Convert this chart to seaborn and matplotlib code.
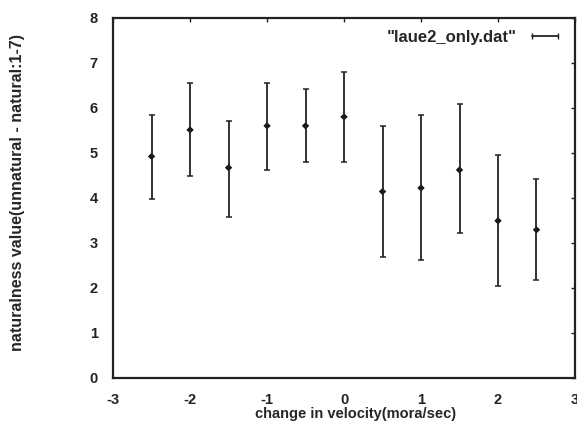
import matplotlib
matplotlib.use("Agg")
import matplotlib.pyplot as plt
from matplotlib.lines import Line2D
import numpy as np
import pandas as pd
import seaborn as sns

# velocity change (mora/sec) and naturalness ratings
velocity = [-2.5, -2.0, -1.5, -1.0, -0.5, 0.0, 0.5, 1.0, 1.5, 2.0, 2.5]
mean_score = [4.92, 5.51, 4.67, 5.60, 5.60, 5.80, 4.14, 4.22, 4.62, 3.49, 3.29]
upper = [5.84, 6.55, 5.71, 6.56, 6.42, 6.80, 5.60, 5.83, 6.08, 4.96, 4.42]
lower = [3.98, 4.49, 3.58, 4.62, 4.80, 4.80, 2.69, 2.62, 3.22, 2.04, 2.18]

LABEL = '"laue2_only.dat"'

sns.set_style("white")
plt.rcParams["font.family"] = ["Liberation Sans", "DejaVu Sans"]
plt.rcParams["axes.unicode_minus"] = False

df = pd.DataFrame({"v": velocity, "m": mean_score, "hi": upper, "lo": lower})
yerr = np.vstack([df["m"] - df["lo"], df["hi"] - df["m"]])

fig = plt.figure(figsize=(5.77, 4.25), dpi=100)
ax = fig.add_axes([0.196, 0.111, 0.8005, 0.847])

ax.errorbar(df["v"], df["m"], yerr=yerr, fmt="none", ecolor="#222222",
            elinewidth=1.3, capsize=2.5, capthick=1.1)
sns.scatterplot(data=df, x="v", y="m", ax=ax, color="#111111", s=14,
                marker="D", edgecolor="none", legend=False)

ax.set_xlim(-3, 3)
ax.set_ylim(0, 8)
ax.set_xticks(range(-3, 4))
ax.set_yticks(range(0, 9))
ax.tick_params(direction="in", length=3, width=1, top=True, right=True,
               labelsize=10.5, colors="#222222")
ax.tick_params(axis="x", pad=11)
ax.tick_params(axis="y", pad=11)
for lab in ax.get_xticklabels() + ax.get_yticklabels():
    lab.set_fontweight("bold")
for s in ax.spines.values():
    s.set_linewidth(1.6)
    s.set_color("#222222")

ax.set_xlabel("change in velocity(mora/sec)", fontsize=10.5, fontweight="bold")
ax.xaxis.set_label_coords(0.524, -0.08)
ax.set_ylabel("naturalness value(unnatural - natural:1-7)", fontsize=11.5,
              fontweight="bold")
ax.yaxis.set_label_coords(-0.19, 0.515)

handle = Line2D([], [], color="#222222", lw=1.3, marker="|", markersize=4)
leg = ax.legend(handles=[handle], labels=[LABEL], loc="upper right",
                frameon=False, fontsize=12, markerfirst=False, numpoints=2,
                handlelength=2.2, handletextpad=0.6, borderaxespad=0.3)
for t in leg.get_texts():
    t.set_fontweight("bold")

fig.savefig("out.png", dpi=100)
